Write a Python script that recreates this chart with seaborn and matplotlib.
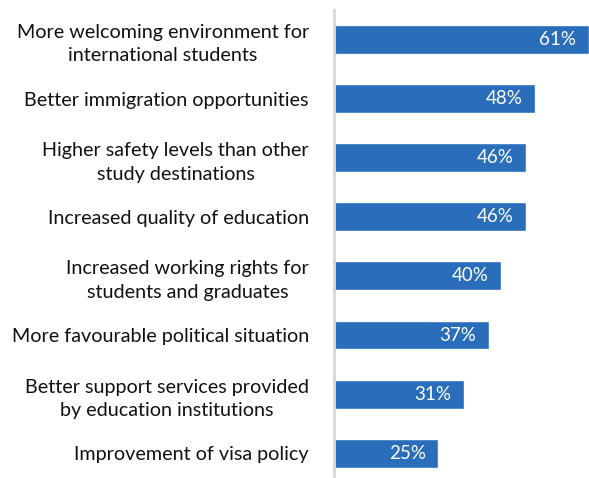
import matplotlib.pyplot as plt
import seaborn as sns
import pandas as pd

categories = [
    "More welcoming environment for\ninternational students",
    "Better immigration opportunities",
    "Higher safety levels than other\nstudy destinations",
    "Increased quality of education",
    "Increased working rights for\nstudents and graduates",
    "More favourable political situation",
    "Better support services provided\nby education institutions",
    "Improvement of visa policy",
]
values = [61, 48, 46, 46, 40, 37, 31, 25]

df = pd.DataFrame({"Reason": categories, "Share": values})

sns.set_style("white")
plt.rcParams['font.family'] = ['Lato', 'DejaVu Sans']

fig = plt.figure(figsize=(5.89, 4.78), dpi=100)
ax = fig.add_axes([0.567, 0.0, 0.433, 0.979])

sns.barplot(data=df, y="Reason", x="Share", orient="h", color="#2A6EBB",
            width=0.49, saturation=1, ax=ax)

ax.set_xlim(0, 61)
ax.set_ylim(7.42, -0.5)
ax.set_xlabel("")
ax.set_ylabel("")
ax.set_xticks([])
sns.despine(ax=ax, left=False, bottom=True, top=True, right=True)
ax.spines['left'].set_color('#d9d9d9')
ax.spines['left'].set_linewidth(2)
ax.tick_params(axis='y', length=0, pad=18, labelsize=14.2, labelcolor='#111111')
for lbl in ax.get_yticklabels():
    lbl.set_multialignment('center')
    lbl.set_linespacing(1.45)

for i, v in enumerate(values):
    ax.annotate(f"{v}%", xy=(v, i), xytext=(-9, 0), textcoords="offset points",
                ha="right", va="center", color="white", fontsize=13.5)

fig.savefig("out.png", dpi=100)
